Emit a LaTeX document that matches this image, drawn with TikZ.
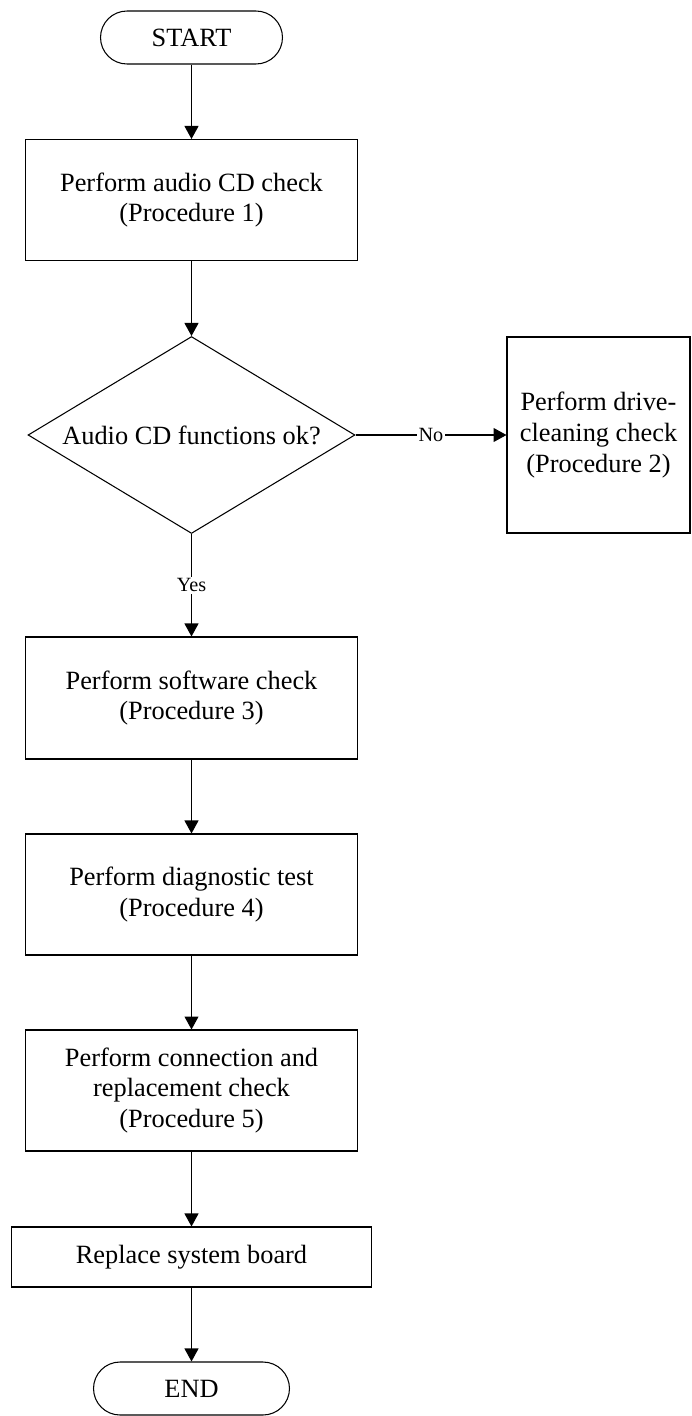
\documentclass[tikz,border=0pt]{standalone}
\usepackage{fontspec}
\setmainfont{Liberation Serif}
\usetikzlibrary{shapes.geometric,arrows.meta}

\begin{document}
\begin{tikzpicture}[x=0.02cm, y=-0.02cm, line width=0.6pt,
  every node/.style={font=\fontsize{15}{17.5}\selectfont},
  box/.style={draw, align=center, minimum width=6.64cm, minimum height=2.42cm},
  term/.style={draw, rounded corners=0.53cm, minimum width=3.64cm, minimum height=1.06cm},
  test/.style={draw, diamond, aspect=1.66, inner sep=0pt, minimum width=6.54cm, minimum height=3.94cm},
  lbl/.style={fill=white, inner sep=1pt, font=\fontsize{11.5}{13}\selectfont},
  arr/.style={-{Triangle[length=0.26cm, width=0.28cm]}}]
  \useasboundingbox (0,0) rectangle (691,1416);
  % \draw[thin] (0,0) rectangle (691,1416);
  \node[term] (start) at (191.5,37.5) {START};
  \node[box] (p1) at (191.5,200) {Perform audio CD check\\(Procedure 1)};
  \node[test] (q1) at (191.5,435) {Audio CD functions ok?};
  \node[box, minimum width=3.66cm, minimum height=3.92cm] (p2) at (598.5,435) {Perform drive-\\cleaning check\\(Procedure 2)};
  \node[box, minimum height=2.44cm] (p3) at (191.5,698) {Perform software check\\(Procedure 3)};
  \node[box] (p4) at (191.5,894.5) {Perform diagnostic test\\(Procedure 4)};
  \node[box] (p5) at (191.5,1090.5) {Perform connection and\\replacement check\\(Procedure 5)};
  \node[box, minimum width=7.22cm, minimum height=1.2cm] (p6) at (191.5,1257) {Replace system board};
  \node[term, minimum width=3.92cm] (stop) at (191.5,1388.5) {END};
  \draw[arr] (start) -- (p1);
  \draw[arr] (p1) -- (q1);
  \draw[arr] (q1) -- node[lbl] {No} (p2);
  \draw[arr] (q1) -- node[lbl] {Yes} (p3);
  \draw[arr] (p3) -- (p4);
  \draw[arr] (p4) -- (p5);
  \draw[arr] (p5) -- (p6);
  \draw[arr] (p6) -- (stop);
\end{tikzpicture}
\end{document}
